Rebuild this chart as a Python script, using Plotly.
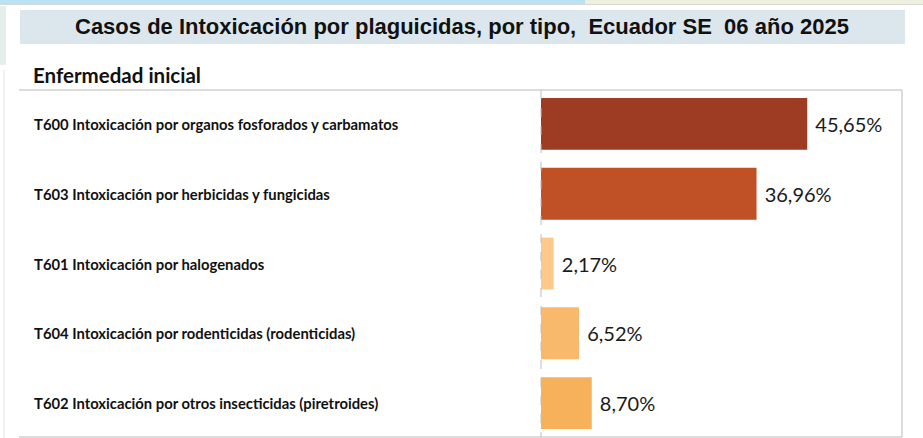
import plotly.graph_objects as go

categories = [
    "T600 Intoxicación por organos fosforados y carbamatos",
    "T603 Intoxicación por herbicidas y fungicidas",
    "T601 Intoxicación por halogenados",
    "T604 Intoxicación por rodenticidas (rodenticidas)",
    "T602 Intoxicación por otros insecticidas (piretroides)",
]
values = [45.65, 36.96, 2.17, 6.52, 8.70]
colors = ["#9D3C22", "#C05026", "#FFC98C", "#F8B96C", "#F6B15A"]
title_text = "Casos de Intoxicación por plaguicidas, por tipo,  Ecuador SE  06 año 2025"
subtitle_text = "Enfermedad inicial"

W, H = 923, 438
L, R, T, B = 541, 21, 89, 0
PW, PH = W - L - R, H - T - B


def px(x):
    return (x - L) / PW


def py(y):
    return 1 - (y - T) / PH


fig = go.Figure()
fig.add_trace(go.Bar(
    y=categories,
    x=values,
    orientation="h",
    marker=dict(color=colors, line=dict(width=0)),
    texttemplate=" %{x:.2f}%",
    textposition="outside",
    textfont=dict(family="Lato", size=20, color="#1a1a1a"),
    cliponaxis=False,
    hoverinfo="skip",
))

shapes = []
# top decorative strips
shapes.append(dict(type="rect", xref="paper", yref="paper", x0=px(0), x1=px(585), y0=py(0), y1=py(4),
                   fillcolor="#B9E2F3", line=dict(width=0), layer="below"))
shapes.append(dict(type="rect", xref="paper", yref="paper", x0=px(585), x1=px(923), y0=py(0), y1=py(4),
                   fillcolor="#EEF0DE", line=dict(width=0), layer="below"))
shapes.append(dict(type="line", xref="paper", yref="paper", x0=px(0), x1=px(923), y0=py(4.5), y1=py(4.5),
                   line=dict(color="#D8D8D8", width=1)))
shapes.append(dict(type="rect", xref="paper", yref="paper", x0=px(0), x1=px(6), y0=py(6), y1=py(65),
                   fillcolor="#E4EEEA", line=dict(width=0), layer="below"))
shapes.append(dict(type="line", xref="paper", yref="paper", x0=px(4), x1=px(4), y0=py(70), y1=py(438),
                   line=dict(color="#E2E2E2", width=1)))
# title box
shapes.append(dict(type="rect", xref="paper", yref="paper", x0=px(20), x1=px(905), y0=py(10), y1=py(44),
                   fillcolor="#DCE7ED", line=dict(width=0), layer="below"))
# table borders
shapes.append(dict(type="line", xref="paper", yref="paper", x0=px(19), x1=px(902), y0=py(90), y1=py(90),
                   line=dict(color="#D0D0D0", width=1.5)))
shapes.append(dict(type="line", xref="paper", yref="paper", x0=px(19), x1=px(902), y0=py(437), y1=py(437),
                   line=dict(color="#D0D0D0", width=1.5)))
shapes.append(dict(type="line", xref="paper", yref="paper", x0=px(902), x1=px(902), y0=py(90), y1=py(437),
                   line=dict(color="#D0D0D0", width=1.5)))
shapes.append(dict(type="line", xref="paper", yref="paper", x0=px(541), x1=px(541), y0=py(90), y1=py(437),
                   line=dict(color="#BDBDBD", width=1, dash="dash")))

annotations = [
    dict(text="<b>" + title_text + "</b>", xref="paper", yref="paper", x=px(462), y=py(27),
         xanchor="center", yanchor="middle", showarrow=False,
         font=dict(family="Liberation Sans", size=22, color="#111111")),
    dict(text="<b>" + subtitle_text + "</b>", xref="paper", yref="paper", x=px(31), y=py(75),
         xanchor="left", yanchor="middle", showarrow=False,
         font=dict(family="Lato", size=20.5, color="#111111")),
]
for c in categories:
    annotations.append(dict(text="<b>" + c + "</b>", xref="paper", yref="y", x=px(32), y=c,
                            xanchor="left", yanchor="middle", showarrow=False,
                            font=dict(family="Lato", size=14.8, color="#111111")))

fig.update_layout(
    width=W, height=H,
    margin=dict(l=L, r=R, t=T, b=B, pad=0),
    paper_bgcolor="white", plot_bgcolor="white",
    separators=",.",
    bargap=0.257,
    showlegend=False,
    xaxis=dict(range=[0, 61.9], visible=False, fixedrange=True),
    yaxis=dict(categoryorder="array", categoryarray=categories, autorange="reversed",
               showticklabels=False, showgrid=False, zeroline=False, showline=False, ticks=""),
    shapes=shapes,
    annotations=annotations,
)

fig.write_html("out.html", config={"displayModeBar": False},
               post_script="document.body.style.margin='0';document.body.style.padding='0';")
